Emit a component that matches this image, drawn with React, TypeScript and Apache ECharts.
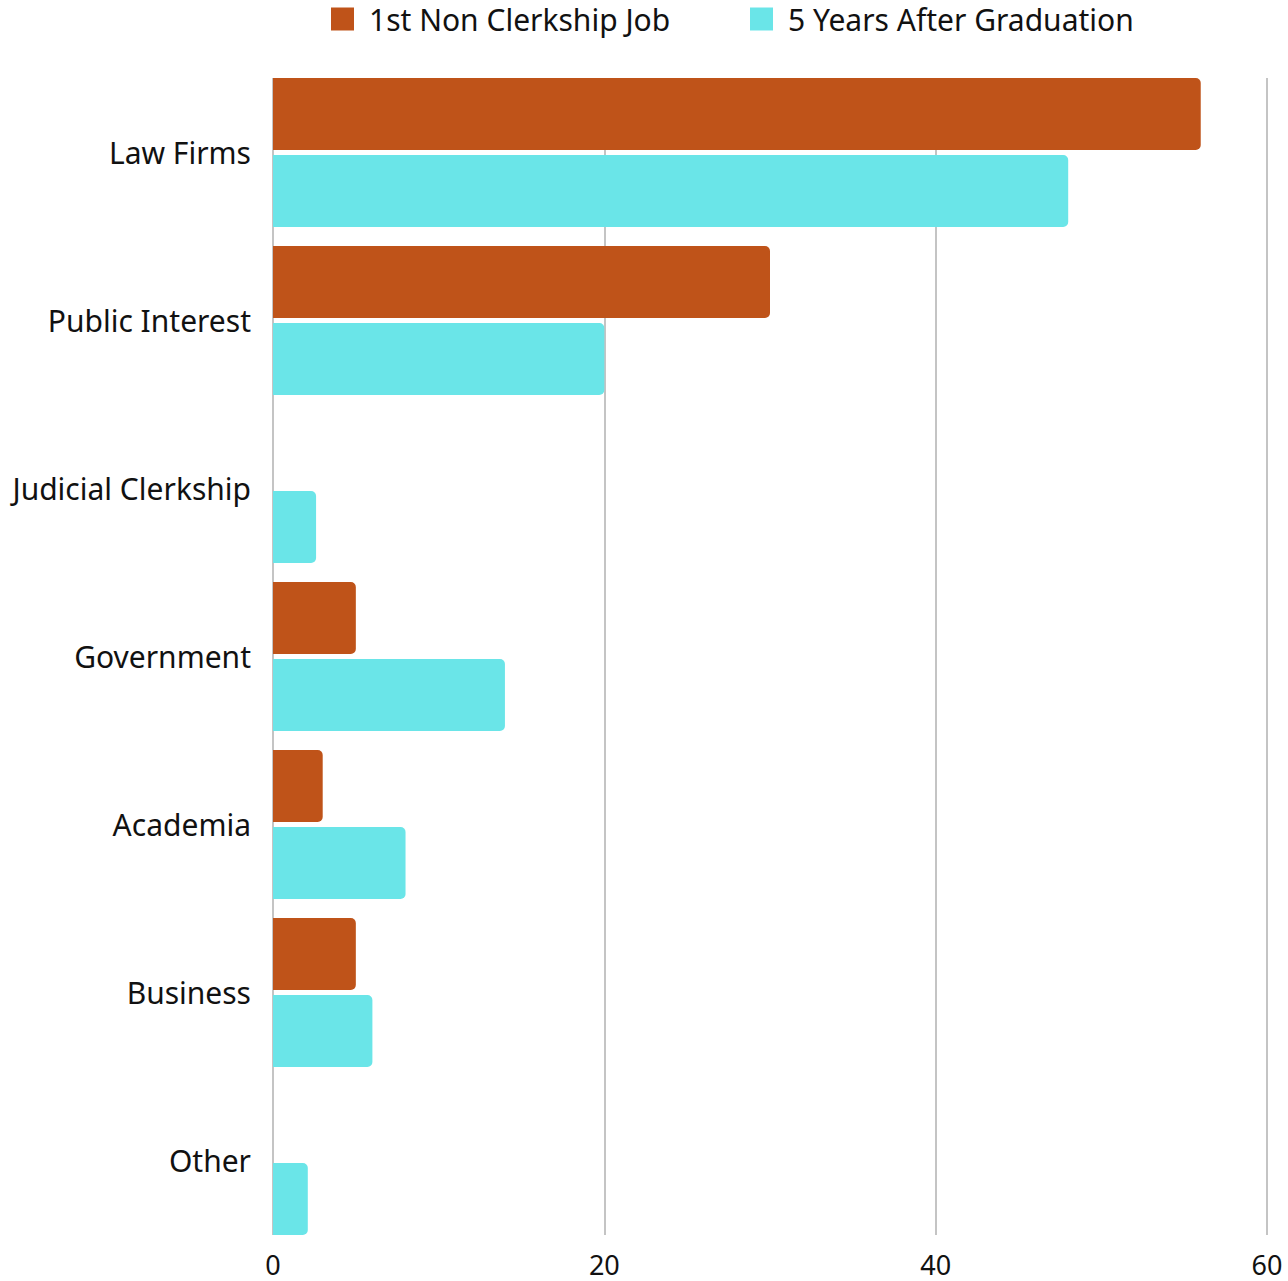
import React, { useEffect, useRef } from "react";
import * as echarts from "echarts";

const categories = [
  "Law Firms",
  "Public Interest",
  "Judicial Clerkship",
  "Government",
  "Academia",
  "Business",
  "Other",
];
const firstJob = [56, 30, 0, 5, 3, 5, 0];
const fiveYears = [48, 20, 2.6, 14, 8, 6, 2.1];
const seriesNames = ["1st Non Clerkship Job", "5 Years After Graduation"];
const xTicks = { min: 0, max: 60, interval: 20 };

const FONT = "'Noto Sans', 'Open Sans', sans-serif";

const legendCommon = {
  top: -1,
  itemWidth: 23,
  itemHeight: 23,
  icon: "rect",
  textStyle: {
    fontSize: 30,
    lineHeight: 23,
    color: "#111",
    fontFamily: FONT,
    padding: [0, 0, 0, 10],
  },
};

export default function App() {
  const ref = useRef<HTMLDivElement>(null);
  useEffect(() => {
    if (!ref.current) return;
    const chart = echarts.init(ref.current, null, { renderer: "svg" });
    chart.setOption({
      animation: false,
      backgroundColor: "#ffffff",
      textStyle: { fontFamily: FONT },
      legend: [
        { ...legendCommon, left: 326, data: [seriesNames[0]] },
        { ...legendCommon, left: 745, data: [seriesNames[1]] },
      ],
      grid: [
        { left: 273, right: 21, top: 68.5, height: 1176 },
        { left: 273, right: 21, top: 78, bottom: 46 },
      ],
      xAxis: [
        {
          gridIndex: 0,
          type: "value",
          min: xTicks.min,
          max: xTicks.max,
          interval: xTicks.interval,
          show: false,
          splitLine: { show: false },
        },
        {
          gridIndex: 1,
          type: "value",
          min: xTicks.min,
          max: xTicks.max,
          interval: xTicks.interval,
          axisLine: { show: false },
          axisTick: { show: false },
          axisLabel: {
            fontSize: 27,
            lineHeight: 24,
            color: "#111",
            fontFamily: FONT,
            margin: 17,
          },
          splitLine: { show: true, lineStyle: { color: "#c4c4c4", width: 2 } },
        },
      ],
      yAxis: [
        {
          gridIndex: 0,
          type: "category",
          data: categories,
          inverse: true,
          axisLine: { show: false },
          axisTick: { show: false },
          axisLabel: { fontSize: 30, color: "#111", fontFamily: FONT, margin: 22 },
          splitLine: { show: false },
        },
        {
          gridIndex: 1,
          type: "value",
          min: 0,
          max: 1,
          show: false,
          splitLine: { show: false },
        },
      ],
      series: [
        {
          name: seriesNames[0],
          type: "bar",
          xAxisIndex: 0,
          yAxisIndex: 0,
          data: firstJob,
          barWidth: 72,
          barGap: "7%",
          itemStyle: { color: "#bf5319", borderRadius: [0, 5, 5, 0] },
          z: 3,
        },
        {
          name: seriesNames[1],
          type: "bar",
          xAxisIndex: 0,
          yAxisIndex: 0,
          data: fiveYears,
          barWidth: 72,
          barGap: "7%",
          itemStyle: { color: "#6ae5e8", borderRadius: [0, 5, 5, 0] },
          z: 3,
        },
      ],
    });
    return () => chart.dispose();
  }, []);
  return (
    <div
      ref={ref}
      style={{ position: "fixed", left: 0, top: 0, width: 1288, height: 1281 }}
    />
  );
}
